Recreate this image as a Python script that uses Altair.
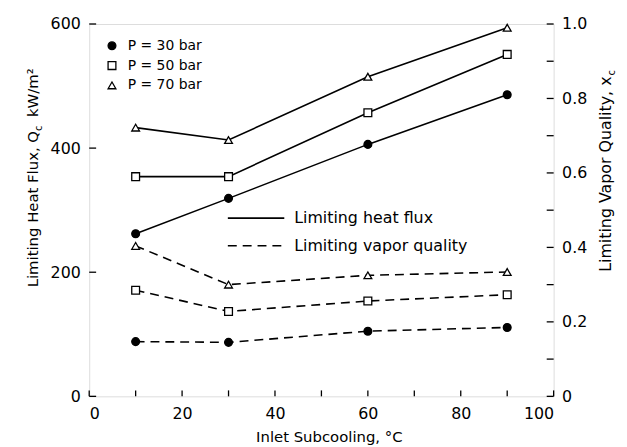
import altair as alt
import pandas as pd

subcool = [10, 30, 60, 90]
pressures = ["P = 30 bar", "P = 50 bar", "P = 70 bar"]
flux_30 = [262, 319, 406, 486]
flux_50 = [354, 354, 457, 551]
flux_70 = [433, 413, 515, 594]
qual_30 = [0.147, 0.145, 0.175, 0.185]
qual_50 = [0.285, 0.228, 0.256, 0.273]
qual_70 = [0.404, 0.300, 0.325, 0.334]

x_ticks = list(range(0, 101, 10))
x_labels = [0, 20, 40, 60, 80, 100]
left_ticks = [0, 200, 400, 600]
right_ticks = [round(i * 0.1, 1) for i in range(11)]

line_labels = ["Limiting heat flux", "Limiting vapor quality"]
left_title = ["Limiting Heat Flux, Q", "c", "kW/m²"]
right_title = ["Limiting Vapor Quality, x", "c"]
x_title = "Inlet Subcooling, °C"

FONT = "DejaVu Sans"
W, H = 469, 376

rows = []
for p, fl, ql in zip(pressures, [flux_30, flux_50, flux_70], [qual_30, qual_50, qual_70]):
    for x, f, q in zip(subcool, fl, ql):
        rows.append({"x": x, "flux": f, "qual": q, "P": p})
df = pd.DataFrame(rows)

xs = alt.Scale(domain=[0, 100], nice=False)
ys_l = alt.Scale(domain=[0, 600], nice=False)
ys_r = alt.Scale(domain=[0, 1], nice=False)

shape_scale = alt.Scale(domain=pressures, range=["circle", "square", "triangle-up"])
fill_scale = alt.Scale(domain=pressures, range=["black", "white", "white"])

xaxis = alt.Axis(values=x_labels, tickSize=0, domain=False, grid=False,
                 labelFont=FONT, labelFontSize=16, labelPadding=9, labelColor="black",
                 title=x_title, titleFont=FONT, titleFontSize=15,
                 titleFontWeight="normal", titleX=242, titleY=41, titleBaseline="middle",
                 titleColor="black")
lax = alt.Axis(values=left_ticks, tickSize=0, domain=False, grid=False,
               labelFont=FONT, labelFontSize=16, labelPadding=9, labelColor="black",
               title=None)
rax = alt.Axis(values=right_ticks, tickSize=0, domain=False, grid=False, orient="right",
               labelFont=FONT, labelFontSize=16, labelPadding=8, labelColor="black",
               labelExpr="(round(datum.value*10) % 2 == 0) ? (datum.value == 0 ? '0' : format(datum.value, '.1f')) : ''",
               title=None)

X = alt.X("x:Q", scale=xs, axis=xaxis)
base = alt.Chart(df)

flux_line = base.mark_line(color="black", strokeWidth=1.6).encode(
    x=X, y=alt.Y("flux:Q", scale=ys_l, axis=lax), detail="P:N")
flux_pts = base.mark_point(size=62, stroke="black", strokeWidth=1.3, opacity=1).encode(
    x=X, y=alt.Y("flux:Q", scale=ys_l, axis=None),
    shape=alt.Shape("P:N", scale=shape_scale, legend=None),
    fill=alt.Fill("P:N", scale=fill_scale, legend=None))
qual_line = base.mark_line(color="black", strokeWidth=1.6, strokeDash=[9, 6]).encode(
    x=X, y=alt.Y("qual:Q", scale=ys_r, axis=rax), detail="P:N")
qual_pts = base.mark_point(size=62, stroke="black", strokeWidth=1.3, opacity=1).encode(
    x=X, y=alt.Y("qual:Q", scale=ys_r, axis=None),
    shape=alt.Shape("P:N", scale=shape_scale, legend=None),
    fill=alt.Fill("P:N", scale=fill_scale, legend=None))

# inward ticks
xt = alt.Chart(pd.DataFrame({"x": x_ticks})).mark_rule(color="black", strokeWidth=1.3).encode(
    x=X, y=alt.value(H), y2=alt.value(H - 6))
lt = alt.Chart(pd.DataFrame({"v": left_ticks})).mark_rule(color="black", strokeWidth=1.3).encode(
    y=alt.Y("v:Q", scale=ys_l, axis=None), x=alt.value(0), x2=alt.value(7))
rt = alt.Chart(pd.DataFrame({"v": right_ticks})).mark_rule(color="black", strokeWidth=1.3).encode(
    y=alt.Y("v:Q", scale=ys_r, axis=None), x=alt.value(W), x2=alt.value(W - 7))

# legend (pressure markers)
leg = pd.DataFrame({"P": pressures, "row": [0, 1, 2]})
leg_y = alt.Scale(domain=[0, 2], range=[22, 62])
leg_pts = alt.Chart(leg).mark_point(size=62, stroke="black", strokeWidth=1.3, opacity=1).encode(
    x=alt.value(23), y=alt.Y("row:Q", scale=leg_y, axis=None),
    shape=alt.Shape("P:N", scale=shape_scale, legend=None),
    fill=alt.Fill("P:N", scale=fill_scale, legend=None))
leg_txt = alt.Chart(leg).mark_text(align="left", baseline="middle", font=FONT, fontSize=14, color="black").encode(
    x=alt.value(39), y=alt.Y("row:Q", scale=leg_y, axis=None), text="P:N")

# legend (line styles)
ls = pd.DataFrame({"lab": line_labels, "row": [0, 1]})
ls_scale = alt.Scale(domain=[0, 1], range=[196, 224])
ls_solid = alt.Chart(ls.iloc[[0]]).mark_rule(color="black", strokeWidth=1.6).encode(
    x=alt.value(140), x2=alt.value(197), y=alt.Y("row:Q", scale=ls_scale, axis=None))
ls_dash = alt.Chart(ls.iloc[[1]]).mark_rule(color="black", strokeWidth=1.6, strokeDash=[9, 6]).encode(
    x=alt.value(140), x2=alt.value(197), y=alt.Y("row:Q", scale=ls_scale, axis=None))
ls_txt = alt.Chart(ls).mark_text(align="left", baseline="middle", font=FONT, fontSize=16, color="black").encode(
    x=alt.value(207), y=alt.Y("row:Q", scale=ls_scale, axis=None), text="lab:N")


def tmark(txt, x, y, size, align):
    return alt.Chart(pd.DataFrame({"t": [txt]})).mark_text(
        angle=270, align=align, baseline="alphabetic", font=FONT, fontSize=size, color="black"
    ).encode(x=alt.value(x), y=alt.value(y), text="t:N")


# rotated axis titles with subscripts
lt1 = tmark(left_title[0], -52, 108, 15, "right")
lt2 = tmark(left_title[1], -48, 108, 10, "left")
lt3 = tmark(left_title[2], -52, 94, 15, "left")
rt1 = tmark(right_title[0], 527, 53, 16, "right")
rt2 = tmark(right_title[1], 531, 52, 10, "left")

chart = alt.layer(
    flux_line, qual_line, xt, lt, rt, flux_pts, qual_pts, leg_pts, leg_txt,
    ls_solid, ls_dash, ls_txt, lt1, lt2, lt3, rt1, rt2
).resolve_scale(y="independent").properties(
    width=W, height=H,
    autosize=alt.AutoSizeParams(type="none"),
    padding={"left": 82, "top": 14, "right": 66, "bottom": 48},
).configure_view(stroke="black", strokeWidth=1.6).configure(background="white")

chart.save("out.html", embed_options={"renderer": "svg", "actions": False})
